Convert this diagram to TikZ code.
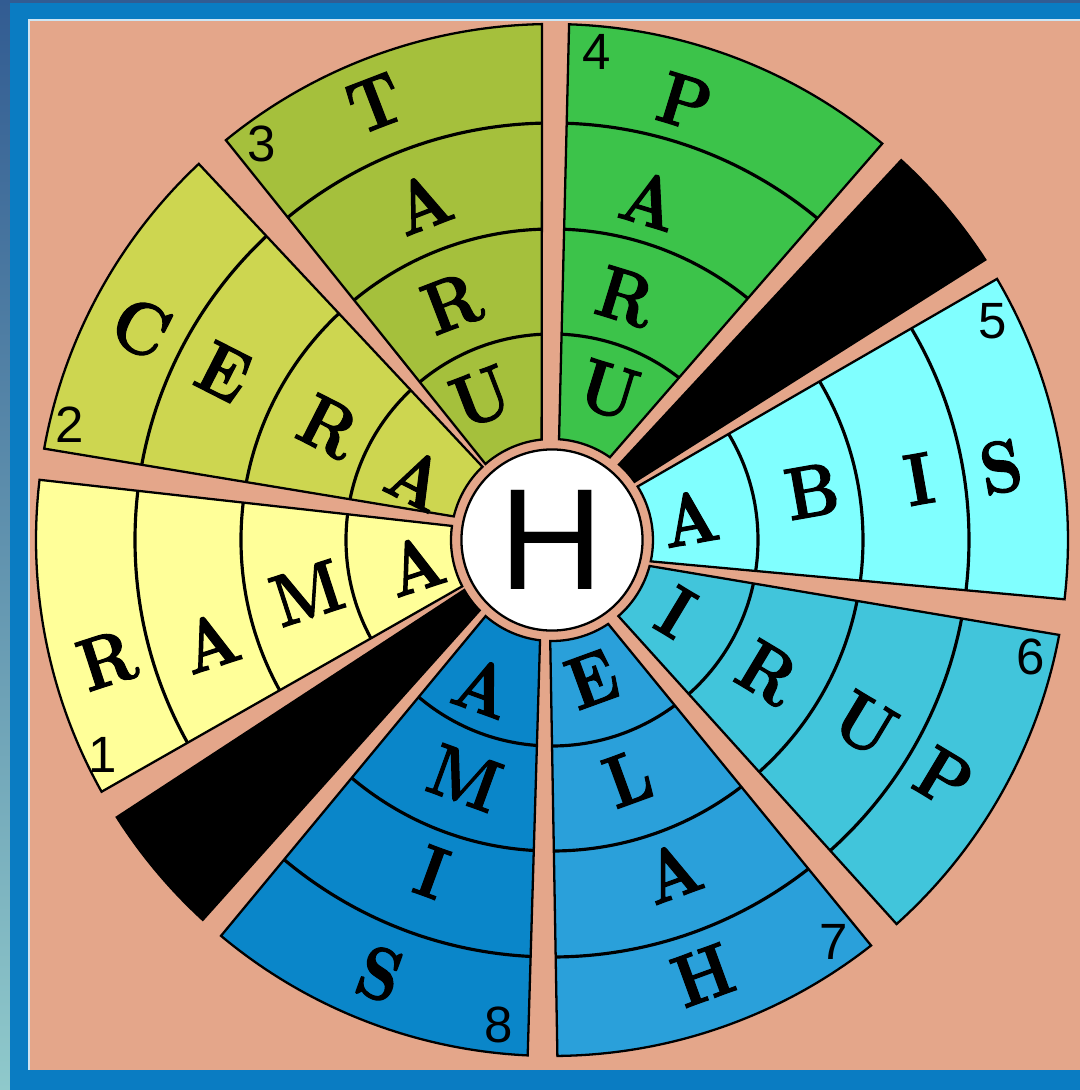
\documentclass[tikz,border=0pt]{standalone}
\usepackage{fontspec}
\usepackage{graphicx}
\newfontfamily\numfont{Liberation Sans}
\IfFontExistsTF{lmroman10-bold.otf}
  {\newfontfamily\letterfont{lmroman10-bold.otf}[FakeBold=1.5]}
  {\newfontfamily\letterfont{lmroman10-regular.otf}[FakeBold=4]}
\definecolor{salmon}{RGB}{228,166,138}
\definecolor{frameblue}{RGB}{10,124,194}
\definecolor{framedark}{RGB}{50,92,146}
\definecolor{frametea}{RGB}{143,201,203}
\definecolor{sone}{RGB}{255,255,153}
\definecolor{stwo}{RGB}{205,214,80}
\definecolor{sthree}{RGB}{165,192,60}
\definecolor{sfour}{RGB}{60,195,74}
\definecolor{sfive}{RGB}{128,255,255}
\definecolor{ssix}{RGB}{65,197,219}
\definecolor{sseven}{RGB}{42,160,218}
\definecolor{seight}{RGB}{10,134,201}

\begin{document}
\begin{tikzpicture}[x=0.01cm, y=0.01cm,
    seg/.style={draw=black, line width=0.65pt},
    ring/.style={draw=black, line width=0.9pt},
    letter/.style={font=\letterfont\fontsize{21}{21}\selectfont, inner sep=0pt},
    num/.style={font=\numfont\fontsize{14.5}{14.5}\selectfont, inner sep=0pt},
    hub/.style={circle, draw=black, line width=0.65pt, fill=white, minimum size=1.81cm, inner sep=0pt, font=\numfont\fontsize{41}{41}\selectfont}
]
\def\rin{101}
\def\rout{516}
\useasboundingbox (-552,-550) rectangle (528,540);

% frame
\fill[frameblue] (-552,-550) rectangle (528,540);
\shade[top color=framedark, bottom color=frametea] (-552,-550) rectangle (-542,540);
\fill[framedark] (-542,537) rectangle (528,540);
\fill[white!80!frameblue] (-524,-530) rectangle (528,521);
\fill[salmon] (-522,-530) rectangle (528,519);

% coloured sectors with their rings
\foreach \ai/\ao/\bi/\bo/\col in {172/173.3/207.3/209.2/sone, 133.5/133.2/166.5/169.8/stwo,
    95.9/91.1/131.2/129.2/sthree, 55/50.2/86/88.1/sfour, -12.2/-6.6/32/30.4/sfive,
    -48.9/-48.1/-14.9/-10.6/ssix, -91/-89.4/-56.2/-51.8/sseven, -131.1/-129.9/-96.8/-92.7/seight}{
  \begin{scope}
    \clip (\ai:\rin) -- (\ao:\rout) arc[start angle=\ao, end angle=\bo, radius=\rout]
      -- (\bi:\rin) arc[start angle=\bi, end angle=\ai, radius=\rin] -- cycle;
    \fill[\col] (0,0) circle[radius=530];
    \foreach \r in {206,311,417}
      \draw[ring] (0,0) circle[radius=\r];
  \end{scope}
  \draw[seg] (\ai:\rin) -- (\ao:\rout) arc[start angle=\ao, end angle=\bo, radius=\rout]
    -- (\bi:\rin) arc[start angle=\bi, end angle=\ai, radius=\rin] -- cycle;
}

% black wedges
\foreach \ai/\ao/\bi/\bo in {35.2/32.9/48.4/47.4, -150.3/-147.5/-135.8/-132.6}
  \fill[black, seg] (\ai:\rin) -- (\ao:\rout) arc[start angle=\ao, end angle=\bo, radius=\rout]
    -- (\bi:\rin) arc[start angle=\bi, end angle=\ai, radius=\rin] -- cycle;

\node[hub] (hub) at (0,0) {H};

% letters
\foreach \x/\y/\ch [count=\i] in {-445/-120/R, -342/-102/A, -245/-53/M, -137/-25/A}
  \node[letter, rotate=18] (rama\i) at (\x,\y) {\scalebox{.88}[1]{\ch}};
\foreach \x/\y/\ch [count=\i] in {-411/212/C, -328/168/E, -223/113/R, -135/61/A}
  \node[letter, rotate=-27] (cera\i) at (\x,\y) {\scalebox{.88}[1]{\ch}};
\foreach \x/\y/\ch [count=\i] in {-177/437/T, -130/337/A, -100/237/R, -71/143/U}
  \node[letter, rotate=21] (taru\i) at (\x,\y) {\scalebox{.88}[1]{\ch}};
\foreach \x/\y/\ch [count=\i] in {133/438/P, 98/340/A, 74/243/R, 57/150/U}
  \node[letter, rotate=-17] (paru\i) at (\x,\y) {\scalebox{.88}[1]{\ch}};
\foreach \x/\y/\ch [count=\i] in {138/22/A, 260/49/B, 367/61/I, 449/73/S}
  \node[letter, rotate=10] (abis\i) at (\x,\y) {\scalebox{.88}[1]{\ch}};
\foreach \x/\y/\ch [count=\i] in {124/-72/I, 216/-133/R, 313/-184/U, 392/-238/P}
  \node[letter, rotate=-31] (irup\i) at (\x,\y) {\scalebox{.88}[1]{\ch}};
\foreach \x/\y/\ch [count=\i] in {40/-139/E, 76/-238/L, 120/-332/A, 151/-435/H}
  \node[letter, rotate=20] (elah\i) at (\x,\y) {\scalebox{.88}[1]{\ch}};
\foreach \x/\y/\ch [count=\i] in {-69/-147/A, -87/-238/M, -120/-332/I, -172/-434/S}
  \node[letter, rotate=-20] (amis\i) at (\x,\y) {\scalebox{.88}[1]{\ch}};

% sector numbers
\node[num] (n1) at (-449,-215) {1};
\node[num] (n2) at (-482,115) {2};
\node[num] (n3) at (-290,396) {3};
\node[num] (n4) at (45,488) {4};
\node[num] (n5) at (441,219) {5};
\node[num] (n6) at (479,-117) {6};
\node[num] (n7) at (282,-402) {7};
\node[num] (n8) at (-53,-485) {8};
\end{tikzpicture}
\end{document}
